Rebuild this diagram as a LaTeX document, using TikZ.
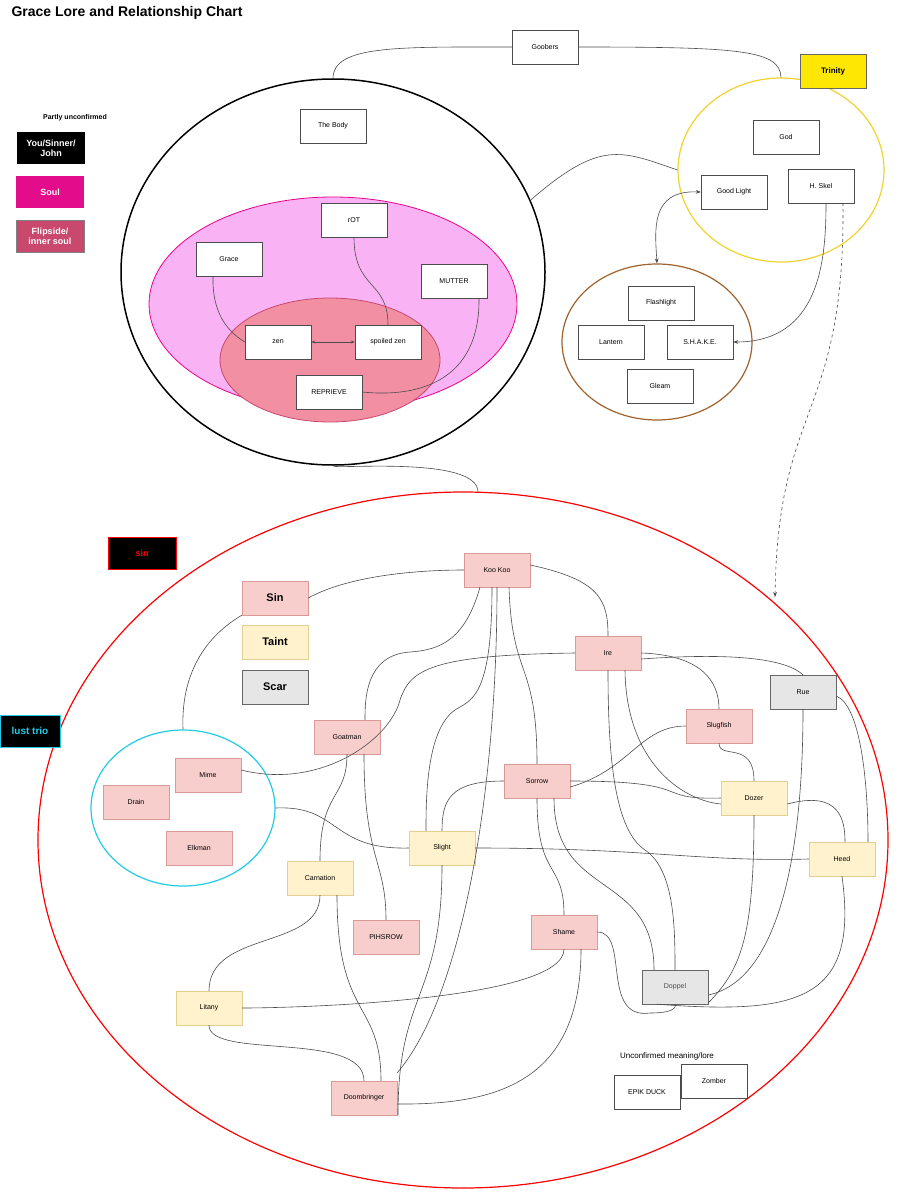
\documentclass[tikz,border=0pt]{standalone}
\usepackage{fontspec}
\setmainfont{Liberation Sans}
\usetikzlibrary{arrows.meta,shapes.geometric}
\definecolor{pk}{HTML}{F8CECC}\definecolor{pkd}{HTML}{D99A98}
\definecolor{yl}{HTML}{FFF2CC}\definecolor{yld}{HTML}{E3CF8F}
\definecolor{gr}{HTML}{E6E6E6}\definecolor{grd}{HTML}{666666}
\definecolor{soul}{HTML}{F9B3F5}\definecolor{flip}{HTML}{F28FA3}
\definecolor{flipd}{HTML}{C8486E}\definecolor{yc}{HTML}{F2D22E}
\definecolor{br}{HTML}{A0622D}\definecolor{cy}{HTML}{22CCE6}
\begin{document}
\begin{tikzpicture}[x=1pt,y=-1pt,font=\fontsize{7}{8}\selectfont,
 box/.style={draw=black!70,fill=white,minimum width=66pt,minimum height=34pt,inner sep=1pt,align=center},
 pbox/.style={box,draw=pkd,fill=pk},
 ybox/.style={box,draw=yld,fill=yl},
 gbox/.style={box,draw=grd,fill=gr},
 con/.style={draw=black!70,line width=0.6pt},
 leg/.style={minimum width=68pt,minimum height=32pt,align=center,font=\fontsize{9}{10}\selectfont\bfseries,inner sep=1pt}]
\useasboundingbox[fill=white] (0,0) rectangle (899,1199);
\node[anchor=west,font=\fontsize{14}{16}\selectfont\bfseries] (title) at (8,13) {Grace Lore and Relationship Chart};
% top structures
\node[draw=black,line width=1.5pt,ellipse,minimum width=424pt,minimum height=386pt] (body) at (333,272) {};
\node[draw=magenta,fill=soul,line width=0.8pt,ellipse,minimum width=368pt,minimum height=214pt] (soulE) at (333,304) {};
\node[draw=flipd,fill=flip,line width=0.8pt,ellipse,minimum width=220pt,minimum height=124pt] (flipE) at (330,360) {};
\node[draw=yc,line width=1.2pt,ellipse,minimum width=206pt,minimum height=184pt] (trin) at (781,170) {};
\node[draw=br,line width=1.2pt,ellipse,minimum width=190pt,minimum height=156pt] (tool) at (657,342) {};
\node[box] (goob) at (545,47) {Goobers};
\node[box,fill=yellow!90!orange,draw=black!60,font=\fontsize{8}{9}\selectfont\bfseries] (trinity) at (833,71) {Trinity};
\node[box] (thebody) at (333,126) {The Body};
\node[box] (grace) at (229,259) {Grace};
\node[box] (rot) at (354,220) {rOT};
\node[box] (mutter) at (454,281) {MUTTER};
\node[box] (zen) at (278,342) {zen};
\node[box] (szen) at (388,342) {spoiled zen};
\node[box] (rep) at (329,392) {REPRIEVE};
\node[box] (god) at (786,137) {God};
\node[box] (gl) at (734,192) {Good Light};
\node[box] (hs) at (821,186) {H. Skel};
\node[box] (flash) at (661,303) {Flashlight};
\node[box] (lant) at (611,342) {Lantern};
\node[box] (shake) at (700,342) {S.H.A.K.E.};
\node[box] (gleam) at (660,386) {Gleam};
% legend
\node[font=\fontsize{7}{8}\selectfont\bfseries] (pu) at (75,118) {Partly unconfirmed};
\node[leg,fill=black,text=white] (l1) at (51,148) {You/Sinner/\\John};
\node[leg,fill=magenta!90!violet,text=white] (l2) at (50,192) {Soul};
\node[leg,fill=flipd,text=white,draw=black!50] (l3) at (50,236) {Flipside/\\inner soul};
% top connectors
\draw[con] (body.north) .. controls (333,45) and (400,47) .. (goob.west);
\draw[con] (goob.east) .. controls (740,47) and (780,50) .. (trin.north);
\draw[con] (body.20) .. controls (600,140) and (620,150) .. (trin.west);
\draw[con,{Stealth[length=5pt]}-{Stealth[length=5pt]}] (gl.west) .. controls (650,190) and (655,230) .. (tool.north);
\draw[con,-{Stealth[length=5pt]}] ([xshift=5pt]hs.south) .. controls (826,260) and (820,342) .. (shake.east);
\draw[con,dashed,-{Stealth[length=5pt]}] ([xshift=22pt]hs.south) .. controls (845,420) and (778,400) .. (775,597);
\draw[con] ([xshift=-16pt]grace.south) .. controls (212,310) and (225,330) .. (zen.west);
\draw[con] (rot.south) .. controls (354,290) and (388,280) .. (szen.north);
\draw[con] ([xshift=25pt]mutter.south) .. controls (480,380) and (420,398) .. (rep.east);
\draw[con,{Stealth[length=4pt]}-{Stealth[length=4pt]}] (zen.east) -- (szen.west);
\draw[con] (body.south) .. controls (330,470) and (478,455) .. (478,492);
% sin region
\node[draw=red,line width=1.2pt,ellipse,minimum width=850pt,minimum height=696pt] (sinE) at (463,840) {};
\node[draw=cy,line width=1.2pt,ellipse,minimum width=184pt,minimum height=156pt] (lust) at (183,808) {};
\node[leg,fill=black,text=red,draw=red] (lsin) at (142,553) {sin};
\node[leg,fill=black,text=cy,draw=cy,minimum width=60pt,font=\fontsize{10}{11}\selectfont\bfseries] (ltrio) at (30,731) {lust trio};
\node[pbox,font=\fontsize{11}{12}\selectfont\bfseries] (sin) at (275,598) {Sin};
\node[ybox,font=\fontsize{11}{12}\selectfont\bfseries] (taint) at (275,642) {Taint};
\node[gbox,font=\fontsize{11}{12}\selectfont\bfseries] (scar) at (275,687) {Scar};
\node[pbox] (mime) at (208,775) {Mime};
\node[pbox] (drain) at (136,802) {Drain};
\node[pbox] (elk) at (199,848) {Elkman};
\node[pbox] (koo) at (497,570) {Koo Koo};
\node[pbox] (ire) at (608,653) {Ire};
\node[gbox] (rue) at (803,692) {Rue};
\node[pbox] (slug) at (719,726) {Slugfish};
\node[pbox] (goat) at (347,737) {Goatman};
\node[pbox] (sorrow) at (537,781) {Sorrow};
\node[ybox] (dozer) at (754,798) {Dozer};
\node[ybox] (slight) at (442,848) {Slight};
\node[ybox] (heed) at (842,859) {Heed};
\node[ybox] (carn) at (320,878) {Carnation};
\node[pbox] (pih) at (386,937) {PIHSROW};
\node[pbox] (shame) at (564,932) {Shame};
\node[gbox,text=black!70] (dop) at (675,987) {Doppel};
\node[ybox] (lit) at (209,1008) {Litany};
\node[pbox] (doom) at (364,1098) {Doombringer};
\node[font=\fontsize{8}{9}\selectfont] (unc) at (667,1056) {Unconfirmed meaning/lore};
\node[box] (zomb) at (714,1081) {Zomber};
\node[box] (epik) at (647,1092) {EPIK DUCK};
% sin connectors
\draw[con] (sin.east) .. controls (350,575) and (420,570) .. (koo.west);
\draw[con] (sin.south west) .. controls (200,640) and (181,680) .. (lust.north);
\draw[con] ([xshift=-17pt]koo.south) .. controls (465,640) and (440,650) .. (410,652) .. controls (365,655) and (365,700) .. ([xshift=18pt]goat.north);
\draw[con] ([xshift=-5pt]koo.south) .. controls (492,700) and (470,700) .. (455,710) .. controls (426,730) and (426,800) .. ([xshift=-16pt]slight.north);
\draw[con] (koo.south) .. controls (497,800) and (460,1000) .. ([yshift=8pt]doom.north east);
\draw[con] ([xshift=12pt]koo.south) .. controls (512,680) and (537,660) .. (sorrow.north);
\draw[con] ([yshift=5pt]koo.east) .. controls (600,580) and (608,600) .. (ire.north);
\draw[con] (ire.west) .. controls (430,655) and (410,670) .. (400,700) .. controls (390,740) and (320,790) .. ([yshift=5pt]mime.east);
\draw[con] ([yshift=-6pt]ire.east) .. controls (740,652) and (787,660) .. (rue.north);
\draw[con] (ire.east) .. controls (700,655) and (719,680) .. (slug.north);
\draw[con] (ire.south) .. controls (608,760) and (615,830) .. (645,850) .. controls (675,870) and (675,930) .. (dop.north);
\draw[con] ([xshift=17pt]ire.south) .. controls (626,760) and (680,800) .. ([yshift=-6pt]dozer.west);
\draw[con] (rue.south) .. controls (803,850) and (780,980) .. ([yshift=-8pt]dop.east);
\draw[con] ([yshift=-4pt]rue.east) .. controls (860,705) and (868,780) .. ([xshift=26pt]heed.north);
\draw[con] (slug.west) .. controls (640,726) and (630,770) .. ([yshift=-6pt]sorrow.east);
\draw[con] (slug.south) .. controls (719,760) and (754,740) .. (dozer.north);
\draw[con] (sorrow.east) .. controls (700,781) and (650,800) .. (dozer.west);
\draw[con] (sorrow.west) .. controls (450,781) and (442,800) .. (slight.north);
\draw[con] (sorrow.south) .. controls (537,880) and (564,860) .. (shame.north);
\draw[con] ([xshift=17pt]sorrow.south) .. controls (554,900) and (654,870) .. ([xshift=-21pt]dop.north);
\draw[con] ([yshift=-6pt]dozer.east) .. controls (840,790) and (845,820) .. ([xshift=3pt]heed.north);
\draw[con] (dozer.south) .. controls (754,940) and (740,970) .. ([yshift=-16pt]dop.east);
\draw[con] (lust.east) .. controls (340,805) and (330,850) .. (slight.west);
\draw[con] (slight.east) .. controls (650,848) and (700,862) .. (heed.west);
\draw[con] (goat.south) .. controls (347,800) and (320,790) .. (carn.north);
\draw[con] ([xshift=17pt]goat.south) .. controls (364,860) and (386,860) .. (pih.north);
\draw[con] (carn.south) .. controls (320,950) and (209,930) .. (lit.north);
\draw[con] ([xshift=17pt]carn.south) .. controls (337,1020) and (381,1000) .. ([xshift=17pt]doom.north);
\draw[con] (slight.south) .. controls (442,1000) and (398,990) .. ([xshift=34pt,yshift=-17pt]doom.center);
\draw[con] (shame.east) .. controls (630,932) and (600,1020) .. (650,1013) .. controls (680,1013) and (675,1004) .. (dop.south);
\draw[con] (shame.south) .. controls (564,1000) and (300,1008) .. (lit.east);
\draw[con] ([xshift=17pt]shame.south) .. controls (581,1080) and (500,1105) .. ([yshift=-6pt]doom.east);
\draw[con] (heed.south) .. controls (859,1000) and (800,1015) .. ([xshift=-18pt]dop.south);
\draw[con] (lit.south) .. controls (209,1060) and (364,1030) .. (doom.north);
\end{tikzpicture}
\end{document}
